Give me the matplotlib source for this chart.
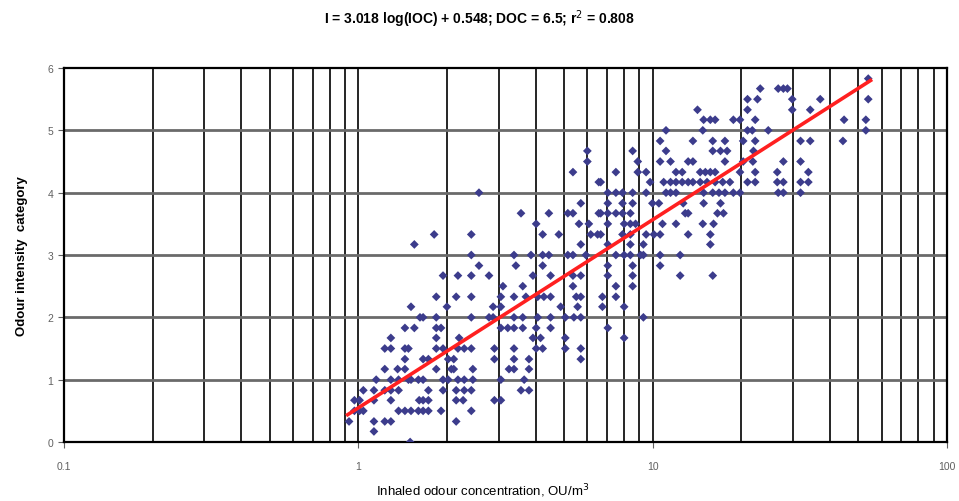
import numpy as np
import matplotlib
matplotlib.use("Agg")
import matplotlib.pyplot as plt
from matplotlib.ticker import FixedLocator, NullFormatter

plt.rcParams['font.family'] = ['Liberation Sans', 'DejaVu Sans']

# regression  I = a*log(IOC) + b
slope = 3.018
intercept = 0.548
fit_from, fit_to = 0.92, 55.0

# scatter, grouped by intensity level: (level, [concentrations])
strip_1 = [
    (3.17, [1.55]), (2.17, [1.51]), (2.0, [1.62]), (1.83, [1.44, 1.55]),
    (1.67, [1.29]), (1.5, [1.23, 1.29, 1.44, 1.48]), (1.33, [1.44]),
    (1.17, [1.23, 1.36, 1.44]), (1.0, [1.15, 1.29, 1.37, 1.48, 1.51, 1.60]),
    (0.83, [1.04, 1.13, 1.23, 1.29, 1.37]), (0.67, [0.97, 1.01, 1.13, 1.29, 1.61]),
    (0.5, [0.97, 1.01, 1.04, 1.37, 1.44, 1.51, 1.60]), (0.33, [0.93, 1.13, 1.23, 1.29]),
    (0.17, [1.13]), (0.0, [1.50]),
]
strip_2 = [
    (4.0, [2.57]), (3.33, [1.81, 2.42]), (3.0, [2.42]), (2.83, [2.57]),
    (2.67, [1.94, 2.18, 2.42, 2.78]), (2.5, [3.10]), (2.33, [1.84, 2.15, 2.42, 3.05]),
    (2.17, [2.0, 2.87, 3.05]), (2.0, [1.66, 1.84, 2.42, 2.78, 2.87]),
    (1.83, [1.84, 1.91, 3.05, 3.22]), (1.67, [1.84, 2.2]),
    (1.5, [1.84, 1.94, 2.18, 2.29, 2.42, 2.9]), (1.33, [1.66, 1.73, 2.02, 2.11, 2.9]),
    (1.17, [1.84, 2.07, 2.11, 2.45, 3.25]), (1.0, [1.66, 1.94, 2.02, 2.18, 2.29, 2.45, 3.05]),
    (0.83, [1.73, 1.94, 2.15, 2.29, 2.42]), (0.67, [1.66, 1.73, 2.15, 2.27, 2.9, 3.05]),
    (0.5, [1.66, 1.73, 1.91, 2.42]), (0.33, [2.15]),
]
strip_3 = [
    (4.67, [6.0]), (4.5, [6.0]), (4.33, [5.36]), (4.17, [6.56]),
    (3.83, [5.7]), (3.67, [3.57, 4.44, 5.15, 5.36, 6.56]), (3.5, [4.02, 5.62, 6.07]),
    (3.33, [4.23, 4.8, 6.16, 6.5]), (3.17, [5.7]),
    (3.0, [3.38, 3.86, 4.23, 4.44, 5.15, 5.36, 5.93]), (2.83, [3.43, 4.23]),
    (2.67, [3.92, 4.5, 5.36, 5.7]), (2.5, [3.62, 5.36]),
    (2.33, [3.38, 3.71, 4.07, 4.27, 4.5, 5.5, 5.7]), (2.17, [4.87, 5.56]),
    (2.0, [3.38, 3.62, 4.07, 4.5, 5.05, 5.4, 5.7]), (1.83, [3.38, 3.62, 4.02, 4.5]),
    (1.67, [3.92, 4.16, 5.05]), (1.5, [3.38, 4.02, 4.23, 5.05, 5.7]),
    (1.33, [3.38, 3.8, 5.7]), (1.17, [3.38, 3.8]), (1.0, [3.66]), (0.83, [3.57, 3.8]),
]
strip_4 = [
    (5.0, [11.1]), (4.83, [10.6]), (4.67, [8.55, 11.1]), (4.5, [8.9, 10.6, 11.5, 13.2]),
    (4.33, [7.5, 8.9, 9.5, 12.0, 12.6]), (4.17, [6.66, 9.8, 10.9, 11.5, 12.0, 12.6, 13.2]),
    (4.0, [7.04, 7.5, 7.9, 8.55, 9.5, 11.1, 11.5, 12.0]),
    (3.83, [7.04, 7.9, 8.55, 9.98, 10.5, 12.7]),
    (3.67, [6.66, 7.04, 7.5, 7.9, 8.4, 12.9, 13.2]),
    (3.5, [7.04, 8.0, 8.4, 8.75, 10.8, 12.0]),
    (3.33, [6.66, 7.9, 8.4, 9.5, 10.1, 10.6, 13.2]), (3.17, [7.04, 8.4, 9.3]),
    (3.0, [7.5, 8.0, 8.4, 9.1, 9.3, 10.6, 12.4]), (2.83, [7.04, 8.55, 10.6]),
    (2.67, [7.04, 8.55, 12.4]), (2.5, [7.5, 8.55]), (2.33, [6.75, 7.5]),
    (2.17, [6.75, 8.0]), (2.0, [9.3]), (1.83, [7.04]), (1.67, [8.0]),
]
strip_5 = [
    (5.67, [23.2, 26.7]), (5.5, [21.0, 22.7]), (5.33, [14.2, 21.0]),
    (5.17, [14.9, 15.7, 16.3, 18.8, 19.8, 22.3]), (5.0, [14.8, 21.0, 21.8, 24.7]),
    (4.83, [13.7, 16.0, 17.6, 20.3, 22.3]), (4.67, [16.0, 17.0, 17.9, 22.0]),
    (4.5, [13.7, 17.6, 20.3, 21.9]), (4.33, [14.5, 15.1, 15.7, 16.3, 19.8, 22.3, 26.5]),
    (4.17, [13.7, 14.5, 15.3, 16.3, 17.3, 18.3, 21.0, 22.3, 26.5]),
    (4.0, [14.9, 16.0, 16.8, 17.6, 18.8, 19.8, 26.7]), (3.83, [14.9, 17.0]),
    (3.67, [16.6, 17.4]), (3.5, [14.8, 16.1]), (3.33, [15.7]), (3.17, [15.7]),
    (2.67, [16.0]),
]
strip_6 = [
    (5.83, [54.0]), (5.67, [27.8, 28.7]), (5.5, [29.8, 37.1, 54.0]), (5.33, [29.8, 34.3]),
    (5.17, [44.7, 53.0]), (5.0, [53.0]), (4.83, [31.8, 34.3, 44.3]), (4.5, [27.8, 31.8]),
    (4.33, [33.8]), (4.17, [27.8, 31.8, 33.8]), (4.0, [27.8, 31.8]),
]

conc = []
score = []
for strip in [strip_1, strip_2, strip_3, strip_4, strip_5, strip_6]:
    for level, xs in strip:
        for x in xs:
            conc.append(x)
            score.append(level)

fig = plt.figure(figsize=(9.59, 5.02), dpi=100)
ax = fig.add_axes([0.0667, 0.1175, 0.9208, 0.745])

ax.set_xscale('log')
ax.set_xlim(0.1, 100)
ax.set_ylim(0, 6)

# grid: every decade step vertical, integer horizontal
vlines = [m * 10.0 ** e for e in (-1, 0, 1) for m in range(1, 10)] + [100]
for v in vlines:
    ax.axvline(v, color='black', lw=1.2, zorder=1)
for h in range(1, 6):
    ax.axhline(h, color='#6a6a6a', lw=2.0, zorder=1)

ax.scatter(conc, score, marker='D', s=20, color='#3c3c8c', edgecolors='none', zorder=3)

fx = np.logspace(np.log10(fit_from), np.log10(fit_to), 100)
ax.plot(fx, slope * np.log10(fx) + intercept, color='#ff2020', lw=2.6, zorder=4)

for s in ax.spines.values():
    s.set_linewidth(1.6)
    s.set_color('black')

ax.xaxis.set_major_locator(FixedLocator([0.1, 1, 10, 100]))
ax.xaxis.set_minor_formatter(NullFormatter())
ax.set_xticklabels(['0.1', '1', '10', '100'])
ax.tick_params(axis='x', which='major', length=4, pad=10, labelsize=7.5, colors='#606060')
ax.tick_params(axis='x', which='minor', length=0)
ax.set_yticks(range(0, 7))
ax.tick_params(axis='y', length=4, labelsize=7.5, colors='#606060')
for t in ax.get_xticklines() + ax.get_yticklines():
    t.set_color('black')

fig.text(0.503, 0.012, 'Inhaled odour concentration, OU/m$^3$',
         ha='center', va='baseline', fontsize=9.5)
ax.set_ylabel('Odour intensity  category', fontsize=9.5, fontweight='bold', labelpad=14)
fig.text(0.5, 0.962, 'I = 3.018 log(IOC) + 0.548; DOC = 6.5; r$^2$ = 0.808',
         ha='center', va='center', fontsize=10, fontweight='bold')

fig.savefig('out.png', dpi=100)
